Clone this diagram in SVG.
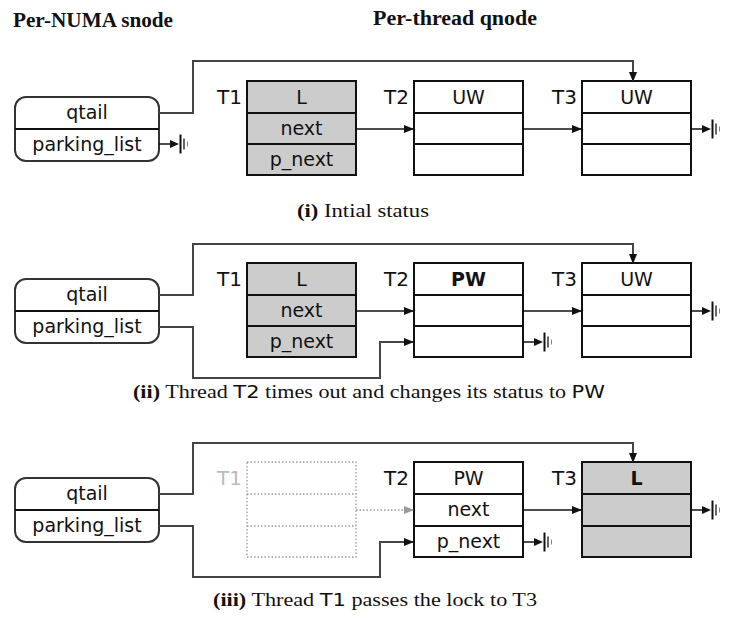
<svg xmlns="http://www.w3.org/2000/svg" xmlns:xlink="http://www.w3.org/1999/xlink" width="750" height="619" viewBox="0 0 750 619">
<style>
.title{font-family:"Liberation Serif",serif;font-weight:bold;font-size:20px;fill:#111}
.cap{font-family:"Liberation Serif",serif;font-size:19px;fill:#111}
.capb{font-weight:bold}
.capsans{font-family:"DejaVu Sans",sans-serif;font-size:18px}
.lbl{font-family:"DejaVu Sans",sans-serif;font-size:19px;fill:#111;text-anchor:middle}
.tl{font-family:"DejaVu Sans",sans-serif;font-size:20px;fill:#111;text-anchor:end}
.box{fill:#fff;stroke:#111;stroke-width:2}
.gray{fill:#cccccc}
.row{stroke:#111;stroke-width:2}
.snode{fill:#fff;stroke:#333;stroke-width:2}
.wire{fill:none;stroke:#444;stroke-width:2}
.arr{fill:none;stroke:#111;stroke-width:1.5}
.dot{fill:none;stroke:#999;stroke-width:1.3;stroke-dasharray:1.5 2}
</style>
<defs>
<marker id="ah" markerWidth="10" markerHeight="8" refX="9" refY="4" orient="auto" markerUnits="userSpaceOnUse">
<path d="M0,0 L10,4 L0,8 Z" fill="#111"/>
</marker>
<marker id="ahg" markerWidth="10" markerHeight="8" refX="9" refY="4" orient="auto" markerUnits="userSpaceOnUse">
<path d="M0,0 L10,4 L0,8 Z" fill="#999"/>
</marker>
<g id="gnd">
<line x1="0" y1="0" x2="13" y2="0" stroke="#111" stroke-width="1.5"/>
<path d="M11,-4 L20,0 L11,4 Z" fill="#111"/>
<line x1="21.5" y1="-9.5" x2="21.5" y2="9.5" stroke="#111" stroke-width="2"/>
<line x1="25" y1="-5.5" x2="25" y2="5.5" stroke="#333" stroke-width="1.5"/>
<line x1="28.5" y1="-2.5" x2="28.5" y2="2.5" stroke="#888" stroke-width="1"/>
</g>
</defs>

<text class="title" x="13" y="27" textLength="160" lengthAdjust="spacingAndGlyphs">Per-NUMA snode</text>
<text class="title" x="373" y="25" textLength="164" lengthAdjust="spacingAndGlyphs">Per-thread qnode</text>

<!-- Panel 1 -->
<g id="panel1">
<g id="p1-snode">
<rect class="snode" x="15" y="97" width="144" height="64" rx="11"/>
<line class="row" x1="15" y1="129" x2="159" y2="129" stroke="#333"/>
<text class="lbl" x="87" y="119">qtail</text>
<text class="lbl" x="87" y="151">parking_list</text>
</g>
<g id="p1-T1">
<rect class="box gray" x="247" y="81" width="109" height="94"/>
<line class="row" x1="247" y1="113" x2="356" y2="113"/>
<line class="row" x1="247" y1="144" x2="356" y2="144"/>
<text class="tl" x="242" y="104">T1</text>
<text class="lbl" x="301.5" y="104">L</text>
<text class="lbl" x="301.5" y="135">next</text>
<text class="lbl" x="301.5" y="166">p_next</text>
</g>
<g id="p1-T2">
<rect class="box" x="414" y="81" width="109" height="94"/>
<line class="row" x1="414" y1="113" x2="523" y2="113"/>
<line class="row" x1="414" y1="144" x2="523" y2="144"/>
<text class="tl" x="409" y="104">T2</text>
<text class="lbl" x="468.5" y="104">UW</text>
</g>
<g id="p1-T3">
<rect class="box" x="582" y="81" width="109" height="94"/>
<line class="row" x1="582" y1="113" x2="691" y2="113"/>
<line class="row" x1="582" y1="144" x2="691" y2="144"/>
<text class="tl" x="577" y="104">T3</text>
<text class="lbl" x="636.5" y="104">UW</text>
</g>
<g id="p1-connectors">
<path class="wire" d="M159,113 H193 V61 H633 V81" marker-end="url(#ah)"/>
<path class="arr" d="M356,129 H413" marker-end="url(#ah)"/>
<path class="arr" d="M523,129 H581" marker-end="url(#ah)"/>
<use xlink:href="#gnd" x="159" y="144"/>
<use xlink:href="#gnd" x="691" y="129"/>
</g>
<text class="cap" x="297" y="217" textLength="132" lengthAdjust="spacingAndGlyphs"><tspan class="capb">(i)</tspan> Intial status</text>
</g>

<!-- Panel 2 -->
<g id="panel2">
<g id="p2-snode">
<rect class="snode" x="15" y="279" width="144" height="64" rx="11"/>
<line class="row" x1="15" y1="311" x2="159" y2="311" stroke="#333"/>
<text class="lbl" x="87" y="301">qtail</text>
<text class="lbl" x="87" y="333">parking_list</text>
</g>
<g id="p2-T1">
<rect class="box gray" x="247" y="263" width="109" height="94"/>
<line class="row" x1="247" y1="295" x2="356" y2="295"/>
<line class="row" x1="247" y1="326" x2="356" y2="326"/>
<text class="tl" x="242" y="286">T1</text>
<text class="lbl" x="301.5" y="286">L</text>
<text class="lbl" x="301.5" y="317">next</text>
<text class="lbl" x="301.5" y="348">p_next</text>
</g>
<g id="p2-T2">
<rect class="box" x="414" y="263" width="109" height="94"/>
<line class="row" x1="414" y1="295" x2="523" y2="295"/>
<line class="row" x1="414" y1="326" x2="523" y2="326"/>
<text class="tl" x="409" y="286">T2</text>
<text class="lbl" x="468.5" y="286" font-weight="bold">PW</text>
</g>
<g id="p2-T3">
<rect class="box" x="582" y="263" width="109" height="94"/>
<line class="row" x1="582" y1="295" x2="691" y2="295"/>
<line class="row" x1="582" y1="326" x2="691" y2="326"/>
<text class="tl" x="577" y="286">T3</text>
<text class="lbl" x="636.5" y="286">UW</text>
</g>
<g id="p2-connectors">
<path class="wire" d="M159,295 H193 V244 H633 V263" marker-end="url(#ah)"/>
<path class="wire" d="M159,327 H193 V378 H380 V342 H413" marker-end="url(#ah)"/>
<path class="arr" d="M356,311 H413" marker-end="url(#ah)"/>
<path class="arr" d="M523,311 H581" marker-end="url(#ah)"/>
<use xlink:href="#gnd" x="523" y="342"/>
<use xlink:href="#gnd" x="691" y="311"/>
</g>
<text class="cap" x="133" y="398" textLength="472" lengthAdjust="spacingAndGlyphs"><tspan class="capb">(ii)</tspan> Thread <tspan class="capsans">T2</tspan> times out and changes its status to <tspan class="capsans">PW</tspan></text>
</g>

<!-- Panel 3 -->
<g id="panel3">
<g id="p3-snode">
<rect class="snode" x="15" y="478" width="144" height="64" rx="11"/>
<line class="row" x1="15" y1="510" x2="159" y2="510" stroke="#333"/>
<text class="lbl" x="87" y="500">qtail</text>
<text class="lbl" x="87" y="532">parking_list</text>
</g>
<g id="p3-T1">
<rect class="dot" x="247" y="462" width="109" height="95"/>
<line class="dot" x1="247" y1="494" x2="356" y2="494"/>
<line class="dot" x1="247" y1="526" x2="356" y2="526"/>
<text class="tl" x="242" y="485" style="fill:#bbb">T1</text>
</g>
<g id="p3-T2">
<rect class="box" x="414" y="462" width="109" height="95"/>
<line class="row" x1="414" y1="494" x2="523" y2="494"/>
<line class="row" x1="414" y1="526" x2="523" y2="526"/>
<text class="tl" x="409" y="485">T2</text>
<text class="lbl" x="468.5" y="485">PW</text>
<text class="lbl" x="468.5" y="516">next</text>
<text class="lbl" x="468.5" y="548">p_next</text>
</g>
<g id="p3-T3">
<rect class="box gray" x="582" y="462" width="109" height="95"/>
<line class="row" x1="582" y1="494" x2="691" y2="494"/>
<line class="row" x1="582" y1="526" x2="691" y2="526"/>
<text class="tl" x="577" y="485">T3</text>
<text class="lbl" x="636.5" y="485" font-weight="bold">L</text>
</g>
<g id="p3-connectors">
<path class="wire" d="M159,494 H193 V443 H633 V462" marker-end="url(#ah)"/>
<path class="wire" d="M159,526 H193 V577 H380 V542 H413" marker-end="url(#ah)"/>
<path class="dot" d="M356,510 H413" marker-end="url(#ahg)"/>
<path class="arr" d="M523,510 H581" marker-end="url(#ah)"/>
<use xlink:href="#gnd" x="523" y="542"/>
<use xlink:href="#gnd" x="691" y="510"/>
</g>
<text class="cap" x="213" y="606" textLength="324" lengthAdjust="spacingAndGlyphs"><tspan class="capb">(iii)</tspan> Thread <tspan class="capsans" font-size="20">T1</tspan> passes the lock to T3</text>
</g>
</svg>
